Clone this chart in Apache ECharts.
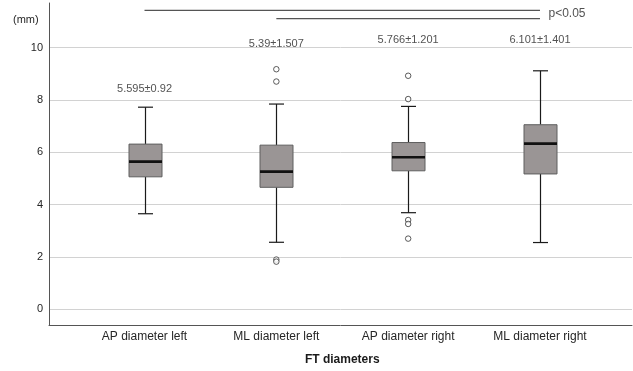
<!DOCTYPE html>
<html>
<head>
<meta charset="utf-8">
<script src="https://cdn.jsdelivr.net/npm/echarts@6/dist/echarts.min.js"></script>
<style>
  html, body { margin: 0; padding: 0; background: #fff; }
</style>
</head>
<body>
<div id="chart" style="width: 633px; height: 371px"></div>
<script>
const categories = ['AP diameter left', 'ML diameter left', 'AP diameter right', 'ML diameter right']
// [low whisker, Q1, median, Q3, high whisker]
const boxValues = [
  [3.65, 5.06, 5.64, 6.31, 7.72],
  [2.56, 4.66, 5.26, 6.27, 7.84],
  [3.69, 5.29, 5.81, 6.37, 7.75],
  [2.55, 5.17, 6.33, 7.05, 9.11],
]
// [category index, value]
const outliers = [
  [1, 9.17], [1, 8.70], [1, 1.90], [1, 1.82],
  [2, 8.92], [2, 8.03], [2, 3.41], [2, 3.26], [2, 2.70],
]
const statLabels = ['5.595±0.92', '5.39±1.507', '5.766±1.201', '6.101±1.401']
const yTicks = [0, 2, 4, 6, 8, 10]
const sigText = 'p<0.05'

const textColor = '#262626'
const font = 'Liberation Sans, Arial, sans-serif'

const chart = echarts.init(document.getElementById('chart'))

function renderBox(params, api) {
  const i = api.value(0)
  const lo = api.coord([i, api.value(1)])
  const q1 = api.coord([i, api.value(2)])
  const md = api.coord([i, api.value(3)])
  const q3 = api.coord([i, api.value(4)])
  const hi = api.coord([i, api.value(5)])
  const cx = Math.round(lo[0]) + 0.5
  const bw = 33
  const cw = 15
  const line = (x1, y1, x2, y2, w, c) => ({
    type: 'line',
    shape: { x1, y1, x2, y2 },
    style: { stroke: c, lineWidth: w },
  })
  return {
    type: 'group',
    children: [
      line(cx, hi[1], cx, q3[1], 1.2, '#1a1a1a'),
      line(cx, q1[1], cx, lo[1], 1.2, '#1a1a1a'),
      line(cx - cw / 2, hi[1], cx + cw / 2, hi[1], 1.2, '#1a1a1a'),
      line(cx - cw / 2, lo[1], cx + cw / 2, lo[1], 1.2, '#1a1a1a'),
      {
        type: 'rect',
        shape: { x: cx - bw / 2, y: q3[1], width: bw, height: q1[1] - q3[1] },
        style: { fill: '#9a9595', stroke: '#5e5e5e', lineWidth: 1 },
      },
      line(cx - bw / 2, md[1], cx + bw / 2, md[1], 2.6, '#111'),
    ],
  }
}

const option = {
  animation: false,
  textStyle: { fontFamily: font },
  grid: [
    // gridlines + y labels
    { left: 49, right: 1, top: 47.7, bottom: 61.7 },
    // axis frame
    { left: 49, right: 1, top: 3, bottom: 46 },
    // data
    { left: 78.6, right: 27.1, top: 3, bottom: 46 },
  ],
  xAxis: [
    { gridIndex: 0, type: 'value', show: false },
    {
      gridIndex: 1, type: 'value', min: 0, max: 1,
      axisLine: { show: true, onZero: false, lineStyle: { color: '#555' } },
      axisTick: { show: false }, axisLabel: { show: false }, splitLine: { show: false },
    },
    {
      gridIndex: 2, type: 'category', data: categories,
      axisLine: { show: false }, axisTick: { show: false },
      axisLabel: { color: textColor, fontSize: 12, margin: 6, interval: 0 },
      name: 'FT diameters', nameLocation: 'middle', nameGap: 29,
      nameTextStyle: { color: '#1a1a1a', fontSize: 12, fontWeight: 'bold' },
    },
  ],
  yAxis: [
    {
      gridIndex: 0, type: 'value', min: 0, max: 10, interval: 2,
      axisLine: { show: false }, axisTick: { show: false },
      axisLabel: {
        color: textColor, fontSize: 11, margin: 6,
        customValues: yTicks,
      },
      splitLine: { show: true, lineStyle: { color: '#d2d2d2', width: 1 } },
    },
    {
      gridIndex: 1, type: 'value', min: 0, max: 1,
      axisLine: { show: true, onZero: false, lineStyle: { color: '#555' } },
      axisTick: { show: false }, axisLabel: { show: false }, splitLine: { show: false },
    },
    { gridIndex: 2, type: 'value', min: -0.6, max: 11.7, show: false },
  ],
  graphic: [
    {
      type: 'text', left: 13, top: 14,
      style: { text: '(mm)', fill: textColor, font: `11px ${font}` },
    },
  ],
  series: [
    {
      type: 'custom',
      xAxisIndex: 2, yAxisIndex: 2,
      renderItem: renderBox,
      data: boxValues.map((b, i) => [i, ...b]),
      z: 3,
    },
    {
      type: 'scatter',
      xAxisIndex: 2, yAxisIndex: 2,
      symbol: 'circle', symbolSize: 5.5,
      itemStyle: { color: '#fff', borderColor: '#333', borderWidth: 1 },
      data: outliers,
      z: 4,
    },
    {
      type: 'scatter',
      xAxisIndex: 2, yAxisIndex: 2,
      symbolSize: 1,
      itemStyle: { color: 'rgba(0,0,0,0)' },
      label: {
        show: true, position: 'inside', color: textColor, fontSize: 11,
        formatter: p => statLabels[p.dataIndex],
      },
      data: [[0, 8.42], [1, 10.13], [2, 10.27], [3, 10.27]],
      z: 5,
    },
    {
      type: 'line',
      xAxisIndex: 2, yAxisIndex: 2,
      symbol: 'none', clip: false,
      lineStyle: { color: '#555', width: 1.3 },
      data: [[0, 11.42], [2.99, 11.42]],
    },
    {
      type: 'line',
      xAxisIndex: 2, yAxisIndex: 2,
      symbol: 'none', clip: false,
      lineStyle: { color: '#555', width: 1.3 },
      data: [[1, 11.1], [2.99, 11.1]],
    },
    {
      type: 'scatter',
      xAxisIndex: 2, yAxisIndex: 2,
      symbolSize: 1,
      itemStyle: { color: 'rgba(0,0,0,0)' },
      label: {
        show: true, position: 'right', distance: 8, color: textColor, fontSize: 12,
        formatter: sigText,
      },
      data: [[3, 11.29]],
    },
  ],
}

chart.setOption(option)
</script>
</body>
</html>
